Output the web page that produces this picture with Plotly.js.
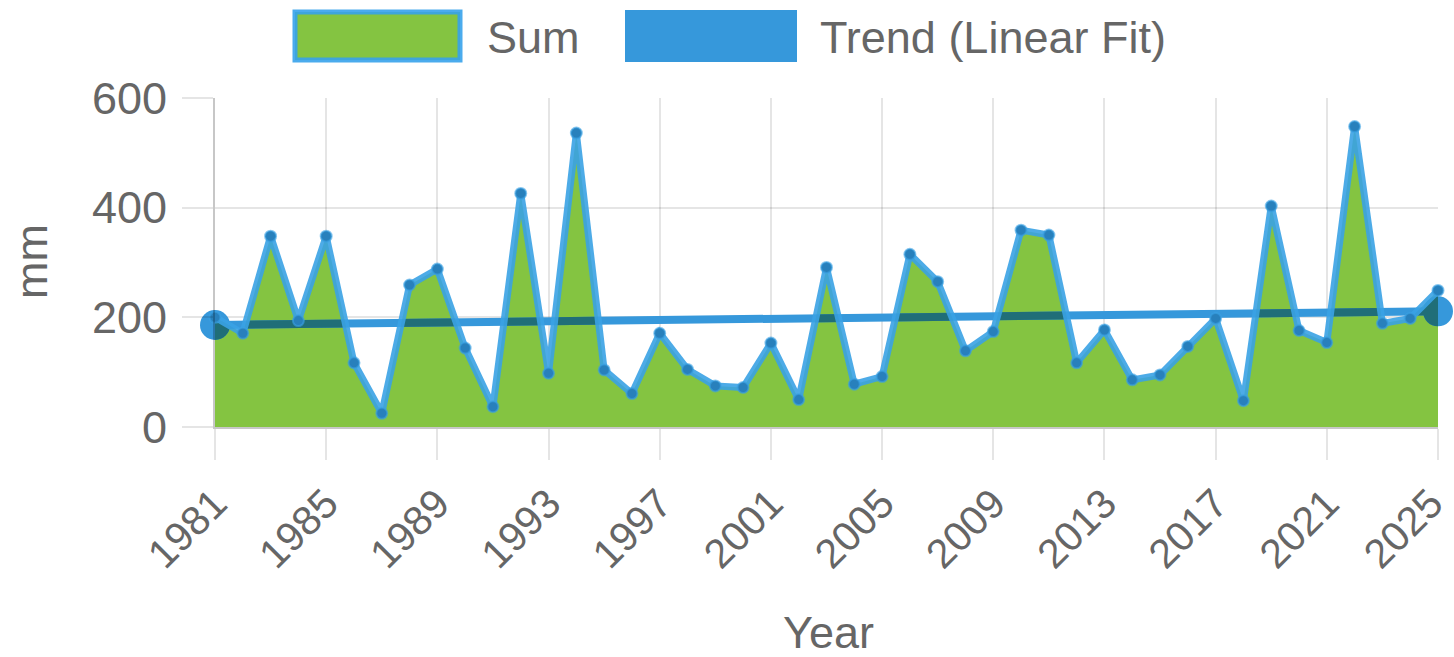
<!DOCTYPE html>
<html>
<head>
<meta charset="utf-8">
<script src="https://cdn.plot.ly/plotly-3.0.1.min.js"></script>
<style>
html,body{margin:0;padding:0;background:#fff;}
#chart{width:1454px;height:657px;}
.scatterlayer .trace:nth-of-type(3) path.js-line{stroke-linejoin:miter !important;stroke-miterlimit:8 !important;}
</style>
</head>
<body>
<div id="chart"></div>
<script>
const years = [1981,1982,1983,1984,1985,1986,1987,1988,1989,1990,
  1991,1992,1993,1994,1995,1996,1997,1998,1999,2000,
  2001,2002,2003,2004,2005,2006,2007,2008,2009,2010,
  2011,2012,2013,2014,2015,2016,2017,2018,2019,2020,
  2021,2022,2023,2024,2025];
const sumValues = [200,171,348,194,348,117,25,259,288,144,
  37,426,98,536,104,61,171,105,75,72,
  153,50,291,78,92,315,265,139,174,359,
  350,117,177,86,95,147,198,48,403,176,
  154,548,189,198,249];
const trendYears = [1981,2025];
const trendValues = [186,211];
const xTickVals = [1981,1985,1989,1993,1997,2001,2005,2009,2013,2017,2021,2025];
const yTickVals = [0,200,400,600];
const seriesNames = ['Sum','Trend (Linear Fit)'];

const FONT = 'Liberation Sans, Arial, Helvetica, sans-serif';
const GRAY = 'rgb(102,102,102)';
const GREEN = 'rgb(132,196,65)';
const BLUE = 'rgb(54,152,219)';
const TEAL = 'rgb(32,110,120)';

const traces = [
  { x: years, y: sumValues, type:'scatter', mode:'lines', fill:'tozeroy',
    fillcolor: GREEN, line:{width:0, color:GREEN}, hoverinfo:'skip', showlegend:false },
  { x: trendYears, y: trendValues, type:'scatter', mode:'lines+markers', name: seriesNames[1],
    line:{color:BLUE, width:8}, marker:{color:BLUE, size:30}, cliponaxis:false, showlegend:false },
  { x: years, y: sumValues, type:'scatter', mode:'lines+markers', name: seriesNames[0],
    line:{color:'rgba(58,162,228,0.9)', width:7},
    marker:{color:'rgb(40,128,188)', size:11, line:{color:'rgba(58,162,228,0.6)', width:2}},
    cliponaxis:false, showlegend:false }
];

const px = v => (v - 215) / (1438 - 215);
const py = v => (427 - v) / (427 - 98);

const axisCommon = {
  showgrid:true, gridcolor:'rgba(0,0,0,0.1)', gridwidth:2,
  ticks:'outside', ticklen:31, tickwidth:2, tickcolor:'rgba(0,0,0,0.1)',
  showline:true, linecolor:'rgba(0,0,0,0.22)', linewidth:2,
  zeroline:false, automargin:false, fixedrange:true, ticklabeloverflow:'allow'
};

const layout = {
  width:1454, height:657,
  margin:{l:215, r:16, t:98, b:230},
  paper_bgcolor:'#fff', plot_bgcolor:'#fff',
  showlegend:false,
  font:{family:FONT, color:GRAY, size:44},
  xaxis:Object.assign({}, axisCommon, { range:[1981,2025], tickvals:xTickVals, ticktext:xTickVals.map(String),
    tickangle:-45, ticklabelstandoff:3, tickfont:{family:FONT, color:GRAY, size:41} }),
  yaxis:Object.assign({}, axisCommon, { range:[0,600], tickvals:yTickVals, ticktext:yTickVals.map(String),
    ticklabelstandoff:6, tickfont:{family:FONT, color:GRAY, size:45} }),
  shapes:[
    { type:'rect', xref:'paper', yref:'paper', x0:px(295), x1:px(460), y0:py(60), y1:py(12),
      fillcolor:GREEN, line:{color:'rgba(54,162,235,0.9)', width:5} },
    { type:'rect', xref:'paper', yref:'paper', x0:px(625), x1:px(797), y0:py(62), y1:py(10),
      fillcolor:BLUE, line:{color:BLUE, width:0} }
  ],
  annotations:[
    { text:seriesNames[0], xref:'paper', yref:'paper', x:px(485), y:py(37), xanchor:'left', yanchor:'middle',
      showarrow:false, font:{family:FONT, color:GRAY, size:45} },
    { text:seriesNames[1], xref:'paper', yref:'paper', x:px(818), y:py(37), xanchor:'left', yanchor:'middle',
      showarrow:false, font:{family:FONT, color:GRAY, size:45} },
    { text:'mm', xref:'paper', yref:'paper', x:px(31), y:py(262), xanchor:'center', yanchor:'middle',
      textangle:-90, showarrow:false, font:{family:FONT, color:GRAY, size:45} },
    { text:'Year', xref:'paper', yref:'paper', x:px(828), y:py(632), xanchor:'center', yanchor:'middle',
      showarrow:false, font:{family:FONT, color:GRAY, size:45} }
  ]
};

Plotly.newPlot('chart', traces, layout, {displayModeBar:false, staticPlot:true}).then(gd => {
  try {
    const ns = 'http://www.w3.org/2000/svg';
    const svg = gd.querySelector('.main-svg');
    const groups = gd.querySelectorAll('.scatterlayer .trace');
    const fillPath = groups[0].querySelector('path.js-fill');
    const trendG = groups[1];
    let defs = svg.querySelector('defs');
    if (!defs) { defs = document.createElementNS(ns, 'defs'); svg.insertBefore(defs, svg.firstChild); }
    const cp = document.createElementNS(ns, 'clipPath');
    cp.setAttribute('id', 'sumfillclip');
    const p = document.createElementNS(ns, 'path');
    p.setAttribute('d', fillPath.getAttribute('d'));
    cp.appendChild(p);
    defs.appendChild(cp);
    const clone = trendG.cloneNode(true);
    clone.querySelectorAll('path').forEach(el => {
      if (el.style.stroke && el.style.stroke !== 'none') el.style.stroke = TEAL;
      if (el.style.fill && el.style.fill !== 'none') el.style.fill = TEAL;
    });
    clone.setAttribute('clip-path', 'url(#sumfillclip)');
    trendG.parentNode.insertBefore(clone, trendG.nextSibling);
  } catch (e) { console.log(e); }
  try {
    const xt = gd.querySelectorAll('.xtick');
    const last = xt[xt.length - 1];
    const prev = last.getAttribute('transform') || '';
    last.setAttribute('transform', 'translate(-7,0) ' + prev);
  } catch (e) { console.log(e); }
});
</script>
</body>
</html>
